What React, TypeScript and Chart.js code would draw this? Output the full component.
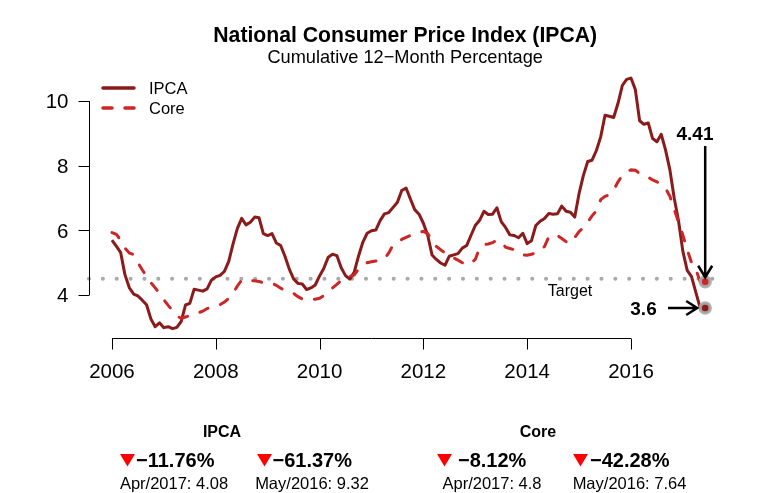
import React, { useEffect, useRef } from "react";
import { Chart, registerables } from "chart.js";

Chart.register(...registerables);

const startYear = 2006;
const ipca: number[] = [
  5.70, 5.51, 5.32, 4.63, 4.23, 4.03, 3.97, 3.84, 3.70, 3.26, 3.02, 3.14,
  2.99, 3.02, 2.96, 3.00, 3.18, 3.69, 3.74, 4.18, 4.15, 4.12, 4.19, 4.46,
  4.56, 4.61, 4.73, 5.04, 5.58, 6.06, 6.37, 6.17, 6.25, 6.41, 6.39, 5.90,
  5.84, 5.90, 5.61, 5.53, 5.20, 4.80, 4.50, 4.36, 4.34, 4.17, 4.22, 4.31,
  4.59, 4.83, 5.17, 5.26, 5.22, 4.84, 4.60, 4.49, 4.70, 5.20, 5.63, 5.91,
  5.99, 6.01, 6.30, 6.51, 6.55, 6.71, 6.87, 7.23, 7.31, 6.97, 6.64, 6.50,
  6.22, 5.85, 5.24, 5.10, 4.99, 4.92, 5.20, 5.24, 5.28, 5.45, 5.53, 5.84,
  6.15, 6.31, 6.59, 6.49, 6.50, 6.70, 6.27, 6.09, 5.86, 5.84, 5.77, 5.91,
  5.59, 5.68, 6.15, 6.28, 6.37, 6.52, 6.50, 6.51, 6.75, 6.59, 6.56, 6.41,
  7.14, 7.70, 8.13, 8.17, 8.47, 8.89, 9.56, 9.53, 9.49, 9.93, 10.48, 10.67,
  10.71, 10.36, 9.39, 9.28, 9.32, 8.84, 8.74, 8.97, 8.48, 7.87, 6.99, 6.29,
  5.35, 4.76, 4.57, 4.08, 3.60,
];
const core: number[] = [
  5.93, 5.88, 5.70, 5.45, 5.30, 5.25, 5.00, 4.78, 4.58, 4.38, 4.22, 4.05,
  3.85, 3.68, 3.52, 3.35, 3.28, 3.32, 3.36, 3.40, 3.45, 3.50, 3.58, 3.62,
  3.66, 3.70, 3.78, 3.90, 4.05, 4.28, 4.46, 4.47, 4.45, 4.44, 4.42, 4.38,
  4.37, 4.36, 4.30, 4.21, 4.15, 4.10, 4.05, 3.95, 3.88, 3.85, 3.85, 3.87,
  3.90, 3.98, 4.12, 4.22, 4.33, 4.45, 4.56, 4.58, 4.62, 4.80, 4.93, 5.00,
  5.03, 5.05, 5.07, 5.12, 5.30, 5.55, 5.62, 5.72, 5.78, 5.84, 5.89, 5.93,
  5.97, 5.90, 5.70, 5.50, 5.40, 5.30, 5.25, 5.15, 5.08, 5.00, 4.93, 4.98,
  5.10, 5.45, 5.56, 5.58, 5.62, 5.70, 5.65, 5.48, 5.44, 5.40, 5.32, 5.24,
  5.23, 5.26, 5.30, 5.38, 5.50, 5.80, 5.86, 5.84, 5.75, 5.65, 5.60, 5.78,
  5.96, 6.08, 6.25, 6.45, 6.60, 6.95, 7.05, 7.10, 7.25, 7.50, 7.70, 7.82,
  7.87, 7.86, 7.76, 7.70, 7.64, 7.56, 7.50, 7.42, 7.30, 7.05, 6.65, 6.25,
  5.85, 5.40, 5.00, 4.80, 4.41,
];
const targetValue = 4.5;
const targetRange = [2005.557, 2017.73];
const lastX = 2017.43;
const xTicks = [2006, 2008, 2010, 2012, 2014, 2016];
const yTicks = [4, 6, 8, 10];

const titleText = "National Consumer Price Index (IPCA)";
const subtitleText = "Cumulative 12\u2212Month Percentage";
const seriesNames = ["IPCA", "Core"];
const summaryBlocks = [
  { head: "IPCA", headX: 222, items: [
    { tri: 120, textX: 136, change: "\u221211.76%", note: "Apr/2017: 4.08", noteX: 174 },
    { tri: 257, textX: 272.5, change: "\u221261.37%", note: "May/2016: 9.32", noteX: 312 },
  ] },
  { head: "Core", headX: 538, items: [
    { tri: 437, textX: 458, change: "\u22128.12%", note: "Apr/2017: 4.8", noteX: 492 },
    { tri: 573, textX: 590, change: "\u221242.28%", note: "May/2016: 7.64", noteX: 629.5 },
  ] },
];

const IPCA_COLOR = "#8B1A1A";
const CORE_COLOR = "#CD2626";
const FONT = "'Liberation Sans', Arial, Helvetica, sans-serif";

const toPoints = (arr: number[]) => arr.map((v, i) => ({ x: startYear + i / 12, y: v }));

export default function App() {
  const ref = useRef<HTMLCanvasElement | null>(null);
  useEffect(() => {
    document.body.style.margin = "0";
    const canvas = ref.current;
    if (!canvas) return;

    const decor = {
      id: "decor",
      afterDraw(chart: any) {
        const ctx = chart.ctx as CanvasRenderingContext2D;
        const xs = chart.scales.x;
        const ys = chart.scales.y;
        const ca = chart.chartArea;
        ctx.save();
        // axes
        ctx.strokeStyle = "#000";
        ctx.lineWidth = 1;
        const axX = Math.round(ca.left + 3) + 0.5;
        const axY = Math.round(ca.bottom - 5.5) + 0.5;
        ctx.beginPath();
        ctx.moveTo(axX, ys.getPixelForValue(yTicks[0]));
        ctx.lineTo(axX, ys.getPixelForValue(yTicks[yTicks.length - 1]));
        yTicks.forEach((t) => {
          const py = Math.round(ys.getPixelForValue(t)) + 0.5;
          ctx.moveTo(axX, py);
          ctx.lineTo(axX - 11, py);
        });
        ctx.moveTo(xs.getPixelForValue(xTicks[0]), axY);
        ctx.lineTo(xs.getPixelForValue(xTicks[xTicks.length - 1]), axY);
        xTicks.forEach((t) => {
          const px = Math.round(xs.getPixelForValue(t)) + 0.5;
          ctx.moveTo(px, axY);
          ctx.lineTo(px, axY + 11);
        });
        ctx.stroke();

        ctx.fillStyle = "#000";
        ctx.font = `20.5px ${FONT}`;
        ctx.textAlign = "right";
        ctx.textBaseline = "alphabetic";
        yTicks.forEach((t) => {
          ctx.fillText(String(t), axX - 21, ys.getPixelForValue(t) + 7.4);
        });
        ctx.textAlign = "center";
        xTicks.forEach((t) => {
          ctx.fillText(String(t), xs.getPixelForValue(t), axY + 39.5);
        });

        // title
        const cx = (ca.left + ca.right) / 2;
        ctx.font = `bold 21.2px ${FONT}`;
        ctx.fillText(titleText, cx, 41.8);
        ctx.font = `18.2px ${FONT}`;
        ctx.fillText(subtitleText, cx, 63.3);

        // legend
        ctx.lineCap = "round";
        ctx.lineWidth = 3.5;
        ctx.strokeStyle = IPCA_COLOR;
        ctx.beginPath();
        ctx.moveTo(103, 88);
        ctx.lineTo(134, 88);
        ctx.stroke();
        ctx.strokeStyle = CORE_COLOR;
        ctx.setLineDash([9, 13]);
        ctx.beginPath();
        ctx.moveTo(103, 108);
        ctx.lineTo(134, 108);
        ctx.stroke();
        ctx.setLineDash([]);
        ctx.fillStyle = "#000";
        ctx.textAlign = "left";
        ctx.font = `16.5px ${FONT}`;
        ctx.fillText(seriesNames[0], 149, 94);
        ctx.fillText(seriesNames[1], 149, 114);

        // target label
        ctx.textAlign = "center";
        ctx.font = `16px ${FONT}`;
        ctx.fillText("Target", 570, 296);

        // annotations
        const coreLast = core[core.length - 1];
        const ipcaLast = ipca[ipca.length - 1];
        const dx = xs.getPixelForValue(lastX);
        const coreY = ys.getPixelForValue(coreLast);
        const ipcaY = ys.getPixelForValue(ipcaLast);
        ctx.font = `bold 19px ${FONT}`;
        ctx.fillText(coreLast.toFixed(2), 695, 140);
        ctx.fillText(String(ipcaLast.toFixed(1)), 643.5, ipcaY + 7);
        ctx.strokeStyle = "#000";
        ctx.lineWidth = 2.5;
        ctx.lineCap = "butt";
        ctx.beginPath();
        ctx.moveTo(dx, 146);
        ctx.lineTo(dx, coreY - 4.5);
        ctx.moveTo(dx - 7, coreY - 16);
        ctx.lineTo(dx, coreY - 4.5);
        ctx.lineTo(dx + 7, coreY - 16);
        ctx.moveTo(668, ipcaY);
        ctx.lineTo(dx - 8, ipcaY);
        ctx.moveTo(dx - 19, ipcaY - 7);
        ctx.lineTo(dx - 8, ipcaY);
        ctx.lineTo(dx - 19, ipcaY + 7);
        ctx.stroke();

        // summary
        summaryBlocks.forEach((b) => {
          ctx.fillStyle = "#000";
          ctx.textAlign = "center";
          ctx.font = `bold 16px ${FONT}`;
          ctx.fillText(b.head, b.headX, 436.7);
          b.items.forEach((it) => {
            ctx.fillStyle = "#FF0000";
            ctx.beginPath();
            ctx.moveTo(it.tri, 454);
            ctx.lineTo(it.tri + 15, 454);
            ctx.lineTo(it.tri + 7.5, 466.5);
            ctx.closePath();
            ctx.fill();
            ctx.fillStyle = "#000";
            ctx.textAlign = "left";
            ctx.font = `bold 20px ${FONT}`;
            ctx.fillText(it.change, it.textX, 467.3);
            ctx.textAlign = "center";
            ctx.font = `16.5px ${FONT}`;
            ctx.fillText(it.note, it.noteX, 488.5);
          });
        });
        ctx.restore();
      },
    };

    const chart = new Chart(canvas, {
      type: "line",
      data: {
        datasets: [
          {
            label: "Target",
            data: [
              { x: targetRange[0], y: targetValue },
              { x: targetRange[1], y: targetValue },
            ],
            borderColor: "#AAAAAA",
            borderWidth: 4,
            borderDash: [0.1, 13.75],
            borderCapStyle: "round",
            pointRadius: 0,
            order: 10,
          },
          {
            label: seriesNames[0],
            data: toPoints(ipca),
            borderColor: IPCA_COLOR,
            borderWidth: 3,
            borderJoinStyle: "round",
            pointRadius: 0,
            tension: 0,
            order: 6,
          },
          {
            label: seriesNames[1],
            data: toPoints(core),
            borderColor: CORE_COLOR,
            borderWidth: 3,
            borderDash: [9, 13],
            borderCapStyle: "round",
            pointRadius: 0,
            tension: 0,
            order: 5,
          },
          {
            label: "last",
            data: [
              { x: lastX, y: ipca[ipca.length - 1] },
              { x: lastX, y: core[core.length - 1] },
            ],
            showLine: false,
            pointRadius: 5,
            pointBorderWidth: 3.5,
            pointBackgroundColor: [IPCA_COLOR, CORE_COLOR],
            pointBorderColor: "rgba(170,170,170,0.9)",
            order: 1,
          },
        ],
      },
      options: {
        responsive: false,
        animation: false,
        events: [],
        layout: { padding: { left: 86, right: 41.6, top: 68.7, bottom: 149.5 } },
        scales: {
          x: { type: "linear", min: 2005.5, max: 2017.8, display: false },
          y: { type: "linear", min: 2.5, max: 11, display: false },
        },
        plugins: { legend: { display: false }, tooltip: { enabled: false }, title: { display: false } },
      },
      plugins: [decor],
    } as any);
    return () => chart.destroy();
  }, []);
  return <canvas ref={ref} width={766} height={493} style={{ display: "block" }} />;
}
